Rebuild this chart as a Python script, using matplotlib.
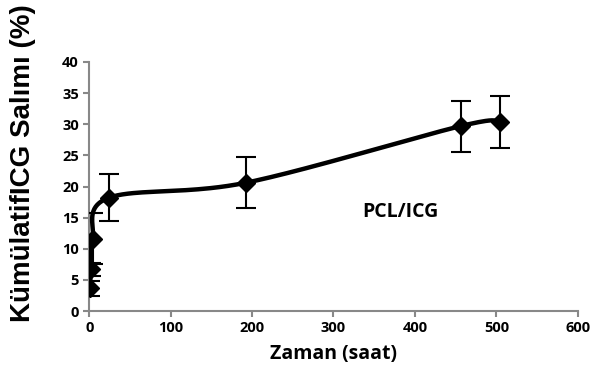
import numpy as np
import matplotlib.pyplot as plt

# release data
hours = [1, 2, 4, 24, 192, 456, 504]
release = [3.7, 6.7, 11.6, 18.2, 20.6, 29.7, 30.4]
err = [1.2, 1.0, 4.1, 3.8, 4.1, 4.1, 4.2]
xticks = [0, 100, 200, 300, 400, 500, 600]
yticks = [0, 5, 10, 15, 20, 25, 30, 35, 40]


def smooth(ax, x, y, n=40):
    # Excel-like smoothed line: Catmull-Rom through the points in display space
    pts = ax.transData.transform(np.column_stack([x, y]))
    p = np.vstack([pts[0], pts, pts[-1]])
    out = []
    for i in range(1, len(p) - 2):
        p0, p1, p2, p3 = p[i - 1], p[i], p[i + 1], p[i + 2]
        t = np.linspace(0, 1, n)[:, None]
        c1 = p1 + (p2 - p0) / 6.0
        c2 = p2 - (p3 - p1) / 6.0
        seg = ((1 - t) ** 3) * p1 + 3 * ((1 - t) ** 2) * t * c1 + 3 * (1 - t) * t ** 2 * c2 + t ** 3 * p2
        out.append(seg)
    out = np.vstack(out)
    return ax.transData.inverted().transform(out)


fig = plt.figure(figsize=(5.95, 3.85), dpi=100)
ax = fig.add_axes([0.15, 0.192, 0.821, 0.647])
ax.set_xlim(0, 600)
ax.set_ylim(0, 40)

curve = smooth(ax, hours, release)
ax.plot(curve[:, 0], curve[:, 1], color='black', lw=3.2, solid_capstyle='round', zorder=3)
ax.errorbar(hours, release, yerr=err, fmt='D', color='black', ms=9,
            ecolor='black', elinewidth=1.5, capsize=7, capthick=1.5, zorder=4)

for s in ['top', 'right']:
    ax.spines[s].set_visible(False)
for s in ['left', 'bottom']:
    ax.spines[s].set_color('#888888')
    ax.spines[s].set_linewidth(1.5)
ax.tick_params(axis='both', colors='#888888', width=1.5, length=4, labelcolor='black')
ax.set_xticks(xticks)
ax.set_yticks(yticks)
for lab in ax.get_xticklabels() + ax.get_yticklabels():
    lab.set_fontfamily('Open Sans')
    lab.set_fontweight('bold')
    lab.set_fontsize(10.5)

ax.set_xlabel('Zaman (saat)', fontsize=14, fontweight='bold', family='Open Sans', labelpad=6)
ax.set_ylabel('KümülatifICG Salımı (%)', fontsize=20, fontweight='bold', family='Liberation Sans')
ax.yaxis.set_label_coords(-0.11, 0.594)
ax.text(382, 15.9, 'PCL/ICG', fontsize=14, fontweight='bold', family='Open Sans', ha='center', va='center')

fig.savefig('out.png', dpi=100)
